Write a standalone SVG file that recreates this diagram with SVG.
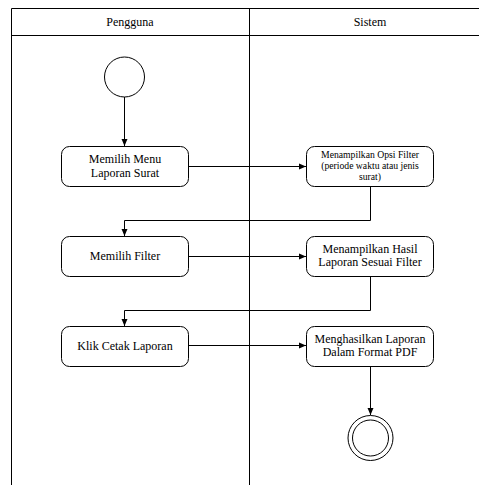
<svg xmlns="http://www.w3.org/2000/svg" width="479" height="485" viewBox="0 0 479 485">
  <defs>
    <marker id="arrow" markerWidth="8" markerHeight="8" refX="7" refY="4" orient="auto" markerUnits="userSpaceOnUse">
      <path d="M0,1 L7,4 L0,7 Z" fill="#000"/>
    </marker>
  </defs>
  <style>
    .lane { fill: none; stroke: #000; stroke-width: 1; }
    .act { fill: #fff; stroke: #000; stroke-width: 1; }
    text { font-family: 'Liberation Serif', 'DejaVu Serif', serif; font-size: 12px; text-anchor: middle; fill: #000; }
    text.small { font-size: 9.7px; }
    .edge { fill: none; stroke: #000; stroke-width: 1; marker-end: url(#arrow); }
  </style>
  <rect width="479" height="485" fill="#fff"/>

  <!-- swimlanes -->
  <g id="lanes">
    <path class="lane" d="M11.5,485 V8.5 H479 M11.5,35.5 H479 M249.5,8.5 V485"/>
    <text x="130" y="26">Pengguna</text>
    <text x="370" y="26">Sistem</text>
  </g>

  <!-- connectors -->
  <g id="connectors">
    <path class="edge" d="M124.5,97 V146"/>
    <path class="edge" d="M188,166.5 H306"/>
    <path class="edge" d="M370.5,186 V220.5 H124.5 V236"/>
    <path class="edge" d="M188,256.5 H306"/>
    <path class="edge" d="M370.5,276 V310.5 H124.5 V326"/>
    <path class="edge" d="M188,345.5 H306"/>
    <path class="edge" d="M370.5,366 V415"/>
  </g>

  <g id="start">
    <circle class="act" cx="124.5" cy="77" r="20"/>
  </g>

  <g id="memilih-menu">
    <rect class="act" x="61.5" y="146.5" width="127" height="40" rx="8"/>
    <text x="125" y="163">Memilih Menu</text>
    <text x="125" y="177">Laporan Surat</text>
  </g>

  <g id="opsi-filter">
    <rect class="act" x="306.5" y="146.5" width="127" height="40" rx="8"/>
    <text class="small" x="370" y="158">Menampilkan Opsi Filter</text>
    <text class="small" x="370" y="169">(periode waktu atau jenis</text>
    <text class="small" x="370" y="180">surat)</text>
  </g>

  <g id="memilih-filter">
    <rect class="act" x="61.5" y="236.5" width="127" height="40" rx="8"/>
    <text x="125" y="260">Memilih Filter</text>
  </g>

  <g id="hasil-laporan">
    <rect class="act" x="306.5" y="236.5" width="127" height="40" rx="8"/>
    <text x="370" y="252.5">Menampilkan Hasil</text>
    <text x="370" y="266">Laporan Sesuai Filter</text>
  </g>

  <g id="cetak-laporan">
    <rect class="act" x="61.5" y="326.5" width="127" height="40" rx="8"/>
    <text x="125" y="349.5">Klik Cetak Laporan</text>
  </g>

  <g id="format-pdf">
    <rect class="act" x="306.5" y="326.5" width="127" height="40" rx="8"/>
    <text x="370" y="342.5">Menghasilkan Laporan</text>
    <text x="370" y="356">Dalam Format PDF</text>
  </g>

  <g id="end">
    <circle class="act" cx="370.5" cy="438" r="22.5"/>
    <circle class="act" cx="370.5" cy="438" r="18"/>
  </g>
</svg>
